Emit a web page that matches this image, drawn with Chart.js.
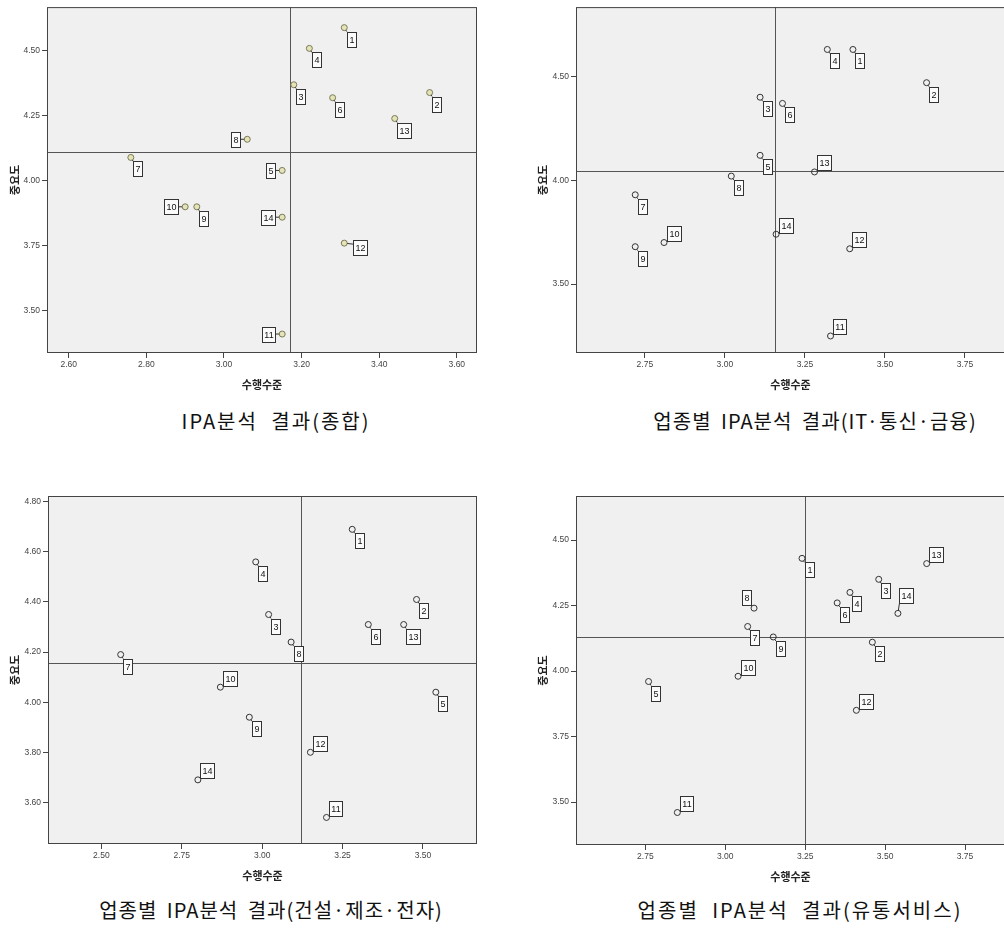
<!DOCTYPE html>
<html><head><meta charset="utf-8">
<script src="https://cdn.jsdelivr.net/npm/chart.js@4.4.1/dist/chart.umd.min.js"></script>
<style>
html,body{margin:0;padding:0;background:#fff;overflow:hidden;}
#wrap{position:relative;width:1004px;height:931px;overflow:hidden;}
canvas{position:absolute;}
.cap{position:absolute;font-family:"Noto Sans CJK KR","Noto Sans",sans-serif;font-size:20px;line-height:20px;color:#111;white-space:pre;transform:translateX(-50%);letter-spacing:1px;word-spacing:4px;}
.wide{letter-spacing:2px;word-spacing:7px;}
</style></head><body>
<div id="wrap">
<canvas id="c1" width="490" height="400" style="left:0px;top:0px;width:490px;height:400px"></canvas>
<canvas id="c2" width="510" height="400" style="left:500px;top:0px;width:510px;height:400px"></canvas>
<canvas id="c3" width="490" height="431" style="left:0px;top:460px;width:490px;height:431px"></canvas>
<canvas id="c4" width="510" height="432" style="left:500px;top:460px;width:510px;height:432px"></canvas>
<div class="cap wide" style="left:276px;top:411px">IPA분석 결과(종합)</div>
<div class="cap" style="left:815px;top:411px">업종별 IPA분석 결과(IT·통신·금융)</div>
<div class="cap" style="left:271px;top:900px">업종별 IPA분석 결과(건설·제조·전자)</div>
<div class="cap wide" style="left:800px;top:900px">업종별 IPA분석 결과(유통서비스)</div>
</div>
<script>
// ---------- data ----------
const pointLabels = ['1','2','3','4','5','6','7','8','9','10','11','12','13','14'];
const xAxisTitle = '수행수준';
const yAxisTitle = '중요도';

// 종합
const totalPerf = [3.31,3.53,3.18,3.22,3.15,3.28,2.76,3.06,2.93,2.90,3.15,3.31,3.44,3.15];
const totalImp  = [4.59,4.34,4.37,4.51,4.04,4.32,4.09,4.16,3.90,3.90,3.41,3.76,4.24,3.86];
const totalMean = [3.17, 4.11];
const totalXTicks = [2.60,2.80,3.00,3.20,3.40,3.60];
const totalYTicks = [3.50,3.75,4.00,4.25,4.50];

// IT·통신·금융
const itPerf = [3.40,3.63,3.11,3.32,3.11,3.18,2.72,3.02,2.72,2.81,3.33,3.39,3.28,3.16];
const itImp  = [4.63,4.47,4.40,4.63,4.12,4.37,3.93,4.02,3.68,3.70,3.25,3.67,4.04,3.74];
const itMean = [3.156, 4.046];
const itXTicks = [2.75,3.00,3.25,3.50,3.75];
const itYTicks = [3.50,4.00,4.50];

// 건설·제조·전자
const conPerf = [3.28,3.48,3.02,2.98,3.54,3.33,2.56,3.09,2.96,2.87,3.20,3.15,3.44,2.80];
const conImp  = [4.69,4.41,4.35,4.56,4.04,4.31,4.19,4.24,3.94,4.06,3.54,3.80,4.31,3.69];
const conMean = [3.122, 4.155];
const conXTicks = [2.50,2.75,3.00,3.25,3.50];
const conYTicks = [3.60,3.80,4.00,4.20,4.40,4.60,4.80];

// 유통서비스
const disPerf = [3.24,3.46,3.48,3.39,2.76,3.35,3.07,3.09,3.15,3.04,2.85,3.41,3.63,3.54];
const disImp  = [4.43,4.11,4.35,4.30,3.96,4.26,4.17,4.24,4.13,3.98,3.46,3.85,4.41,4.22];
const disMean = [3.25, 4.131];
const disXTicks = [2.75,3.00,3.25,3.50,3.75];
const disYTicks = [3.50,3.75,4.00,4.25,4.50];

// ---------- plugin: background, mean lines, frame, point labels ----------
const quadPlugin = {
  id: 'quad',
  beforeDatasetsDraw(chart, args, opts) {
    const {ctx, chartArea: a, scales: {x, y}} = chart;
    ctx.save();
    ctx.fillStyle = '#f0f0f0';
    ctx.fillRect(a.left, a.top, a.right - a.left, a.bottom - a.top);
    ctx.lineWidth = 1;
    ctx.strokeStyle = '#555';
    const mx = Math.round(x.getPixelForValue(opts.mean[0])) + 0.5;
    const my = Math.round(y.getPixelForValue(opts.mean[1])) + 0.5;
    ctx.beginPath();
    ctx.moveTo(mx, a.top); ctx.lineTo(mx, a.bottom);
    ctx.moveTo(a.left, my); ctx.lineTo(a.right, my);
    ctx.stroke();
    ctx.strokeStyle = '#444';
    ctx.strokeRect(a.left + 0.5, a.top + 0.5, a.right - a.left - 1, a.bottom - a.top - 1);
    ctx.restore();
  },
  afterDatasetsDraw(chart, args, opts) {
    const {ctx} = chart;
    const meta = chart.getDatasetMeta(0);
    ctx.save();
    ctx.font = '9px "Liberation Sans", Arial, sans-serif';
    ctx.textAlign = 'center';
    ctx.textBaseline = 'middle';
    ctx.lineWidth = 1;
    meta.data.forEach((el, i) => {
      const px = el.x, py = el.y;
      const txt = pointLabels[i];
      const w = Math.round(ctx.measureText(txt).width) + 4, h = 15;
      let bx, by, cx, cy;
      switch (opts.dirs[i]) {
        case 'se': bx = px + 2.5; by = py + 4; cx = bx; cy = by; break;
        case 'ne': bx = px + 2.5; by = py - 1.5 - h; cx = bx; cy = py - 1.5; break;
        case 'n':  bx = px + 1.5; by = py - 10 - h; cx = bx; cy = py - 10; break;
        case 'nw': bx = px - 3.5 - w; by = py - 3.5 - h; cx = px - 3.5; cy = py - 3.5; break;
        case 'w':  bx = px - 7 - w; by = py - h / 2; cx = px - 7; cy = py; break;
        case 'e':  bx = px + 9; by = py - 3; cx = bx; cy = py + 1; break;
      }
      // connector
      const dx = cx - px, dy = cy - py, len = Math.hypot(dx, dy);
      if (len > 3) {
        ctx.strokeStyle = '#333';
        ctx.beginPath();
        ctx.moveTo(px + dx / len * 3, py + dy / len * 3);
        ctx.lineTo(cx, cy);
        ctx.stroke();
      }
      const rx = Math.round(bx) + 0.5, ry = Math.round(by) + 0.5;
      ctx.fillStyle = '#fbfbfb';
      ctx.fillRect(rx, ry, w, h);
      ctx.strokeStyle = '#333';
      ctx.strokeRect(rx, ry, w, h);
      ctx.fillStyle = '#111';
      ctx.fillText(txt, rx + w / 2, ry + h / 2 + 0.5);
    });
    ctx.restore();
  }
};

function makeChart(id, perf, imp, mean, xTicks, yTicks, cfg) {
  const tickFont = {family: '"Liberation Sans", Arial, sans-serif', size: 8.5};
  const titleFont = {family: '"Noto Sans CJK KR", sans-serif', size: 11, weight: 'bold'};
  return new Chart(document.getElementById(id), {
    type: 'scatter',
    data: {
      datasets: [{
        data: perf.map((v, i) => ({x: v, y: imp[i]})),
        pointRadius: 3,
        pointBorderWidth: 1,
        pointBackgroundColor: cfg.fill,
        pointBorderColor: cfg.stroke,
        showLine: false
      }]
    },
    options: {
      responsive: false,
      animation: false,
      devicePixelRatio: 1,
      layout: {padding: {left: 0, top: cfg.padTop, right: cfg.padRight, bottom: 0}},
      plugins: {
        legend: {display: false},
        tooltip: {enabled: false},
        quad: {mean: mean, dirs: cfg.dirs}
      },
      scales: {
        x: {
          type: 'linear', min: cfg.xMin, max: cfg.xMax,
          afterBuildTicks: s => { s.ticks = xTicks.map(v => ({value: v})); },
          afterFit: s => { s.height = 47; },
          grid: {drawOnChartArea: false, drawTicks: true, tickLength: 5, color: '#444'},
          border: {display: false},
          ticks: {font: tickFont, color: '#444', padding: 2, maxRotation: 0, autoSkip: false,
                  callback: v => Number(v).toFixed(2)},
          title: {display: true, text: xAxisTitle, font: titleFont, color: '#222',
                  padding: {top: 0, bottom: 8.4}}
        },
        y: {
          type: 'linear', min: cfg.yMin, max: cfg.yMax,
          afterBuildTicks: s => { s.ticks = yTicks.map(v => ({value: v})); },
          afterFit: s => { s.width = cfg.yWidth; },
          grid: {drawOnChartArea: false, drawTicks: true, tickLength: 5, color: '#444'},
          border: {display: false},
          ticks: {font: tickFont, color: '#444', padding: 2, autoSkip: false,
                  callback: v => Number(v).toFixed(2)},
          title: {display: true, text: yAxisTitle, font: titleFont, color: '#222',
                  padding: {top: cfg.yTitlePad, bottom: 0}}
        }
      }
    },
    plugins: [quadPlugin]
  });
}

makeChart('c1', totalPerf, totalImp, totalMean, totalXTicks, totalYTicks, {
  xMin: 2.544, xMax: 3.652, yMin: 3.337, yMax: 4.669,
  padTop: 4, padRight: 13, yWidth: 47, yTitlePad: 8.4,
  fill: '#e4e4b8', stroke: '#7a7a58',
  dirs: ['se','se','se','se','w','se','se','w','se','w','w','e','se','w']
});
makeChart('c2', itPerf, itImp, itMean, itXTicks, itYTicks, {
  xMin: 2.535, xMax: 3.875, yMin: 3.168, yMax: 4.834,
  padTop: 4, padRight: 2, yWidth: 76, yTitlePad: 36.4,
  fill: 'rgba(0,0,0,0)', stroke: '#333',
  dirs: ['se','se','se','se','se','se','se','se','se','ne','ne','ne','ne','ne']
});
makeChart('c3', conPerf, conImp, conMean, conXTicks, conYTicks, {
  xMin: 2.334, xMax: 3.668, yMin: 3.434, yMax: 4.823,
  padTop: 36, padRight: 13, yWidth: 48, yTitlePad: 8.4,
  fill: 'rgba(0,0,0,0)', stroke: '#333',
  dirs: ['se','se','se','se','se','se','se','se','se','ne','ne','ne','se','ne']
});
makeChart('c4', disPerf, disImp, disMean, disXTicks, disYTicks, {
  xMin: 2.533, xMax: 3.875, yMin: 3.336, yMax: 4.668,
  padTop: 36, padRight: 2, yWidth: 76, yTitlePad: 36.4,
  fill: 'rgba(0,0,0,0)', stroke: '#333',
  dirs: ['se','se','se','se','se','se','se','nw','se','ne','ne','ne','ne','n']
});
</script>
</body></html>
